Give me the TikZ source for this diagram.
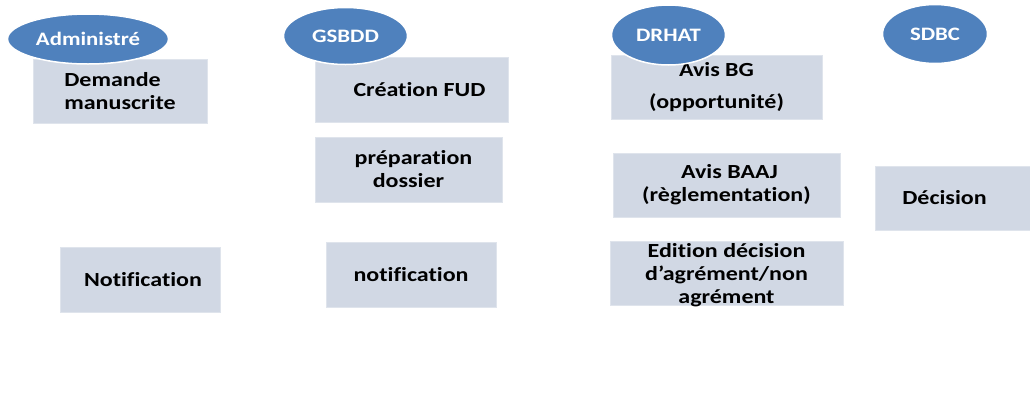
\documentclass[tikz,border=0pt]{standalone}
\usepackage{fontspec}
\setmainfont{Carlito}[FakeStretch=1.2, Ligatures=CommonOff]
\usepackage{xcolor}
\usepackage{tikz}
\usetikzlibrary{shapes}

\definecolor{actorblue}{HTML}{4F81BD}
\definecolor{taskfill}{HTML}{D1D8E4}

\begin{document}
\begin{tikzpicture}[x=1pt, y=-1pt]
\tikzstyle{actor}=[ellipse, fill=actorblue, draw=white, line width=1.5pt, text=white, inner sep=0pt, font=\fontsize{19}{21}\selectfont\bfseries]
\tikzstyle{task}=[rectangle, fill=taskfill, draw=taskfill!70!white, line width=0.8pt, inner sep=0pt, align=center, font=\fontsize{20}{23}\selectfont\bfseries]
\useasboundingbox (0,0) rectangle (1030,394);
% Administre
\node[task, minimum width=174pt, minimum height=64pt, align=left] (demande) at (120,91) {Demande\\manuscrite};
\node[task, minimum width=160pt, minimum height=65pt] (notifadm) at (140,279.5) {\hspace{6pt}Notification};
% GSBDD
\node[task, minimum width=193pt, minimum height=65pt] (fud) at (411.5,89.5) {\hspace{16pt}Création FUD};
\node[task, minimum width=187pt, minimum height=65pt] (prepa) at (408.5,169.5) {\hspace{10pt}préparation\\dossier};
\node[task, minimum width=170pt, minimum height=65pt] (notifgs) at (411,274.5) {notification};
% DRHAT
\node[task, minimum width=211pt, minimum height=64pt] (avisbg) at (716.5,87) {Avis BG\\[9pt](opportunité)};
\node[task, minimum width=227pt, minimum height=64pt] (avisbaaj) at (726.5,185) {\hspace{6pt}Avis BAAJ\\(règlementation)};
\node[task, minimum width=233pt, minimum height=64pt, text depth=0pt] (edition) at (726.5,273) {Edition décision\\d’agrément/non\\agrément};
% SDBC
\node[task, minimum width=155pt, minimum height=64pt] (decision) at (952.5,198) {Décision\hspace{16pt}};
% acteurs
\node[actor, minimum width=161pt, minimum height=50pt] (administre) at (88,39) {Administré};
\node[actor, minimum width=124pt, minimum height=57pt] (gsbdd) at (345.5,36) {GSBDD};
\node[actor, minimum width=114pt, minimum height=60pt] (drhat) at (668.5,35) {DRHAT};
\node[actor, minimum width=105pt, minimum height=59pt] (sdbc) at (935,34) {SDBC};
\end{tikzpicture}
\end{document}
